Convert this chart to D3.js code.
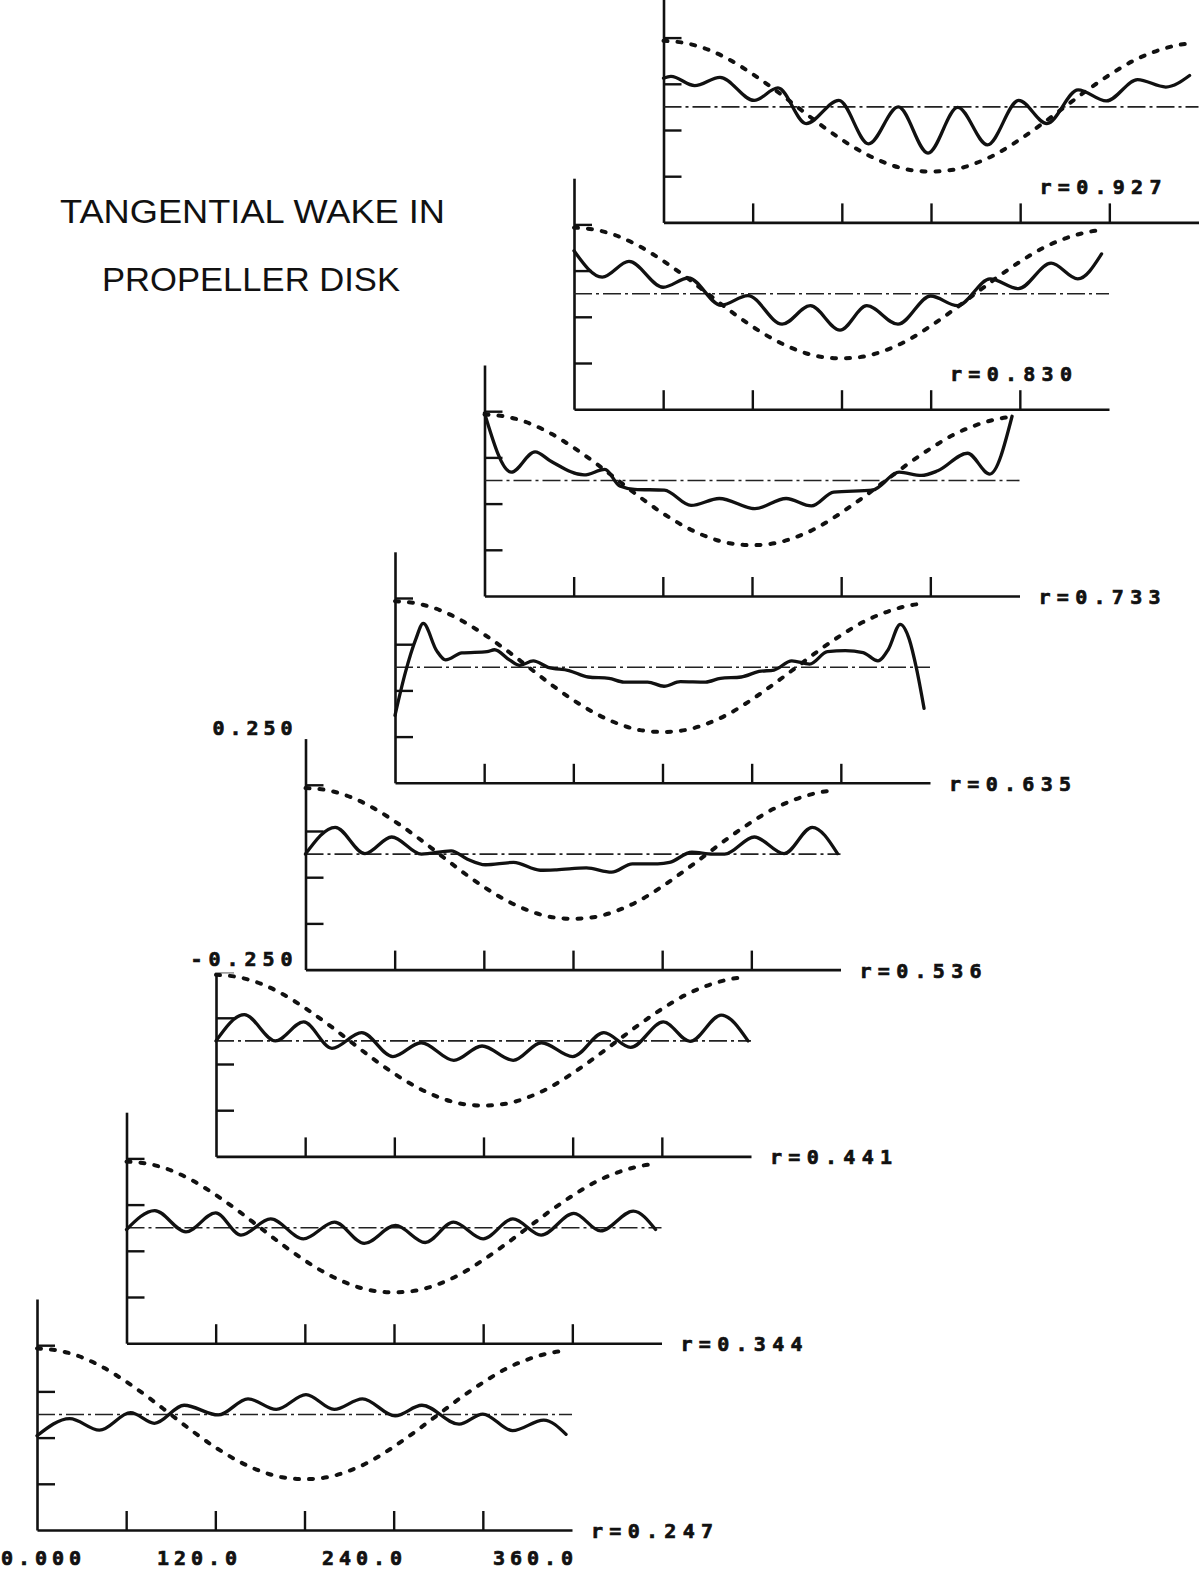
<!DOCTYPE html>
<html><head><meta charset="utf-8">
<script src="https://cdn.jsdelivr.net/npm/d3@7"></script>
<style>
html,body{margin:0;padding:0;background:#fff;}
svg{display:block;}
</style></head>
<body>
<svg id="chart" width="1202" height="1570"></svg>
<script>
// ---------------- DATA ----------------
const titleLines = ["TANGENTIAL WAKE IN", "PROPELLER DISK"];
const radiusLabels = ["r=0.247","r=0.344","r=0.441","r=0.536","r=0.635","r=0.733","r=0.830","r=0.927"];
const xTickValues = [60,120,180,240,300];
const yTickValues = [-0.15,-0.05,0.05,0.15];
const xLabelValues = [0,120,240,360];
const xLabelTexts = ["0.000","120.0","240.0","360.0"];
const yLabelValues = [0.25,-0.25];
const yLabelTexts = ["0.250","-0.250"];

// dashed reference curve (angle deg, value)
const refDeg = [0,15,30,45,60,75,90,105,120,135,150,165,180,195,210,225,240,255,270,285,300,315,330,345,355];
const refVal = [0.143,0.138,0.124,0.101,0.071,0.037,0.0,-0.037,-0.071,-0.100,-0.122,-0.136,-0.140,-0.136,-0.122,-0.100,-0.070,-0.036,0.0,0.036,0.069,0.098,0.119,0.133,0.138];

// solid tangential wake curves (angle deg, value)
const wake0247 = [[0,-0.046],[22,-0.009],[42,-0.034],[63,0.004],[79,-0.019],[99,0.02],[122,-0.001],[142,0.034],[161,0.011],[181,0.043],[200,0.011],[219,0.034],[241,-0.003],[259,0.02],[284,-0.021],[300,0.001],[320,-0.035],[341,-0.012],[356,-0.043]];
const wake0344 = [[0,-0.004],[19,0.037],[40,-0.009],[60,0.032],[77,-0.016],[97,0.019],[119,-0.024],[140,0.012],[160,-0.034],[181,0.005],[201,-0.032],[220,0.012],[240,-0.024],[260,0.019],[279,-0.016],[301,0.031],[319,-0.007],[341,0.036],[356,-0.004]];
const wake0441 = [[0,0],[19,0.057],[40,0],[59,0.041],[78,-0.016],[98,0.018],[119,-0.034],[138,-0.004],[160,-0.042],[179,-0.011],[200,-0.042],[219,-0.004],[240,-0.034],[261,0.018],[279,-0.014],[301,0.041],[319,-0.001],[340,0.056],[358,0]];
const wake0536 = [[0,0],[20,0.058],[40,0.001],[58,0.037],[78,0],[98,0.007],[109,-0.011],[121,-0.023],[140,-0.018],[158,-0.035],[169,-0.034],[189,-0.03],[206,-0.039],[220,-0.021],[237,-0.021],[245,-0.018],[260,0.004],[274,0],[282,0],[302,0.037],[322,0.001],[341,0.058],[358,0.001]];
const wake0635 = [[0,-0.104],[7,-0.011],[14,0.061],[19,0.095],[28,0.036],[34,0.016],[45,0.031],[62,0.034],[67,0.038],[77,0.016],[84,0.004],[93,0.014],[103,0],[117,-0.007],[130,-0.021],[144,-0.024],[154,-0.032],[170,-0.032],[181,-0.041],[192,-0.031],[209,-0.032],[219,-0.024],[233,-0.021],[245,-0.009],[255,-0.006],[267,0.014],[279,0.007],[291,0.034],[303,0.036],[315,0.032],[325,0.014],[332,0.039],[340,0.093],[346,0.061],[351,-0.004],[356,-0.089]];
const wake0733 = [[0,0.146],[18,0.018],[34,0.062],[45,0.041],[67,0.012],[81,0.024],[91,-0.012],[101,-0.019],[121,-0.021],[139,-0.054],[158,-0.039],[182,-0.061],[203,-0.039],[220,-0.055],[235,-0.025],[261,-0.021],[279,0.018],[294,0.011],[305,0.021],[325,0.059],[340,0.014],[355,0.139]];
const wake0830 = [[0,0.093],[19,0.036],[37,0.07],[60,0.014],[77,0.034],[99,-0.025],[117,-0.004],[140,-0.066],[159,-0.026],[179,-0.079],[197,-0.026],[218,-0.066],[240,-0.005],[258,-0.026],[280,0.032],[299,0.011],[321,0.066],[339,0.032],[355,0.086]];
const wake0927 = [[0,0.062],[5,0.066],[21,0.046],[38,0.064],[61,0.014],[77,0.041],[96,-0.036],[118,0.014],[138,-0.08],[158,0],[178,-0.1],[198,-0.001],[218,-0.082],[239,0.014],[258,-0.036],[279,0.037],[298,0.013],[319,0.059],[338,0.043],[354,0.068]];
const wakeSeries = [wake0247, wake0344, wake0441, wake0536, wake0635, wake0733, wake0830, wake0927];

// ---------------- LAYOUT ----------------
const X0 = 37, DX = 89.5, ZERO0 = 1414.5, DY = 186.8, W = 535, HALF = 115.5;
const labelFont = "'DejaVu Sans Mono', 'Liberation Mono', monospace";
const INK = "#111";

const svg = d3.select("#chart");
svg.append("rect").attr("width",1202).attr("height",1570).attr("fill","#fff");

// title
const titleX = [60, 102], titleY = [223, 291], titleLen = [385, 298];
titleLines.forEach((t,i) => {
  svg.append("text").attr("x", titleX[i]).attr("y", titleY[i])
    .attr("textLength", titleLen[i]).attr("lengthAdjust","spacingAndGlyphs")
    .attr("font-family","'Liberation Sans', Arial, sans-serif")
    .attr("font-size", 33).attr("fill",INK).text(t);
});

function blockText(sel, x, y, txt, len, anchor) {
  return sel.append("text").attr("x", x).attr("y", y)
    .attr("text-anchor", anchor || "start")
    .attr("textLength", len).attr("lengthAdjust","spacing")
    .attr("font-family", labelFont).attr("font-weight","bold").attr("font-size",20)
    .attr("fill",INK).attr("stroke",INK).attr("stroke-width",0.7)
    .text(txt);
}

const refData = refDeg.map((d,i) => [d, refVal[i]]);
const labelLayer = svg.append("g");
let yLabelSpecs = [];

wakeSeries.forEach((series, i) => {
  const x0 = X0 + DX*i;
  const zero = ZERO0 - DY*i;
  const x = d3.scaleLinear().domain([0,360]).range([x0, x0+W]);
  const y = d3.scaleLinear().domain([-0.25,0.25]).range([zero+HALF, zero-HALF]);
  const g = svg.append("g");

  // bottom axis
  const xAxis = d3.axisBottom(x).tickValues(xTickValues).tickSize(-19).tickSizeOuter(0).tickFormat("");
  const gx = g.append("g").attr("transform", `translate(0,${y(-0.25)})`).call(xAxis);
  // left axis
  const yAxis = d3.axisLeft(y).tickValues(yTickValues).tickSize(-18).tickSizeOuter(0).tickFormat("");
  const gy = g.append("g").attr("transform", `translate(${x(0)},0)`).call(yAxis);
  [gx, gy].forEach(a => {
    a.select(".domain").attr("stroke",INK).attr("stroke-width",2.6);
    a.selectAll(".tick line").attr("stroke",INK).attr("stroke-width",2.4);
  });

  // zero line (dash-dot)
  g.append("line").attr("x1", x(0)).attr("x2", x(360)).attr("y1", y(0)).attr("y2", y(0))
    .attr("stroke","#222").attr("stroke-width",1.6).attr("stroke-dasharray","18,4,3,4");

  const line = d3.line().x(d => x(d[0])).y(d => y(d[1])).curve(d3.curveMonotoneX);
  // dashed reference
  g.append("path").datum(refData).attr("d", line)
    .attr("fill","none").attr("stroke",INK).attr("stroke-width",4)
    .attr("stroke-linecap","round").attr("stroke-dasharray","4,10");
  // solid wake
  g.append("path").datum(series).attr("d", line)
    .attr("fill","none").attr("stroke",INK).attr("stroke-width",3.3)
    .attr("stroke-linejoin","round").attr("stroke-linecap","round");

  // radius label
  let lx, ly;
  if (i < 6) { lx = x(360) + 19; ly = y(-0.25) + 8; }
  else { lx = x(253); ly = y(0) + 87; }
  blockText(g, lx, ly, radiusLabels[i], 122);

  if (i === 3) {
    yLabelValues.forEach((v,k) => {
      yLabelSpecs.push({x: x(0) - 13, y: y(v) - 4, t: yLabelTexts[k], len: k === 0 ? 80 : 102, neg: v < 0});
    });
  }
  if (i === 0) {
    const xl = d3.scaleLinear().domain([0,360]).range([x0 + 1, x0 + 496]);
    xLabelValues.forEach((v,k) => {
      const t = blockText(g, 0, y(-0.25) + 35, xLabelTexts[k], 80, "middle");
      t.attr("x", Math.max(xl(v) - (v > 0 && v < 360 ? 6 : 0), 41));
    });
  }
});

// y range labels (drawn on top with paper-white backing)
yLabelSpecs.forEach(s => {
  const t = blockText(labelLayer, s.x, s.y, s.t, s.len, "end");
  const bb = t.node().getBBox();
  const top = s.neg ? bb.y - 28 : bb.y - 1;
  labelLayer.insert("rect", "text").attr("x", bb.x - 3).attr("y", top)
    .attr("width", bb.width + 5).attr("height", bb.y + bb.height + 2 - top).attr("fill","#fff");
});
labelLayer.raise();
</script>
</body></html>
